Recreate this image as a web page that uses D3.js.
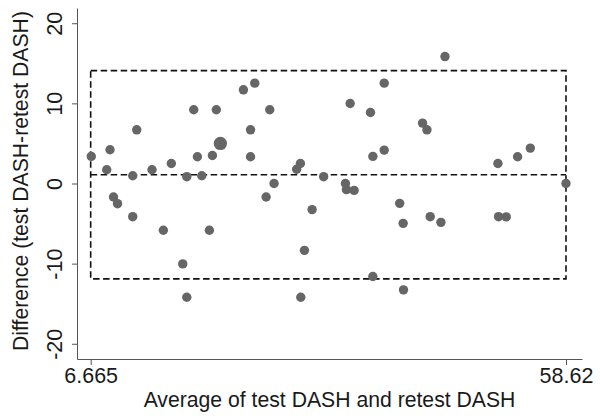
<!DOCTYPE html>
<html>
<head>
<meta charset="utf-8">
<script src="https://cdn.jsdelivr.net/npm/d3@7"></script>
<style>
  body { margin: 0; background: #fff; }
  svg text { font-family: "Liberation Sans", Arial, sans-serif; fill: #1a1a1a; }
</style>
</head>
<body>
<svg width="600" height="420"></svg>
<script>
// average of test and retest DASH (x)
const avg = [6.73, 8.42, 8.78, 9.16, 9.60, 11.26, 11.70, 11.26, 13.37, 14.61,
    15.48, 16.73, 17.17, 17.17, 17.93, 18.33, 18.81, 19.64, 19.97, 20.40,
    20.84, 23.36, 24.14, 24.14, 24.60, 25.84, 26.24, 26.71, 29.18, 29.59,
    30.03, 29.63, 30.87, 32.13, 34.51, 34.62, 35.46, 35.03, 37.25, 37.51,
    37.51, 38.75, 38.75, 40.44, 40.82, 40.86, 42.94, 43.42, 43.78, 44.95,
    45.39, 51.18, 51.25, 52.09, 53.33, 54.72, 58.62];
// difference test - retest (y)
const diff = [3.38, 1.72, 4.21, -1.68, -2.52, 0.97, 6.70, -4.14, 1.72, -5.84,
    2.50, -10.03, -14.19, 0.85, 9.20, 3.34, 0.97, -5.84, 3.50, 9.20,
    5.00, 11.69, 6.70, 3.34, 12.52, -1.68, 9.20, 0.00, 1.78, 2.50,
    -8.34, -14.19, -3.26, 0.85, 0.00, -0.77, -0.86, 9.98, 8.86, 3.38,
    -11.61, 12.52, 4.17, -2.48, -4.97, -13.27, 7.54, 6.70, -4.14, -4.85,
    15.84, 2.50, -4.14, -4.17, 3.34, 4.42, 0.00];
// number of subjects at the same position
const count = [1, 1, 1, 1, 1, 1, 1, 1, 1, 1,
    1, 1, 1, 1, 1, 1, 1, 1, 1, 1,
    2, 1, 1, 1, 1, 1, 1, 1, 1, 1,
    1, 1, 1, 1, 1, 1, 1, 1, 1, 1,
    1, 1, 1, 1, 1, 1, 1, 1, 1, 1,
    1, 1, 1, 1, 1, 1, 1];

const meanDiff = 1.10;
const upperLoA = 14.09;
const lowerLoA = -11.90;
const xTicks = [6.665, 58.62];
const yTicks = [-20, -10, 0, 10, 20];

const svg = d3.select("svg");

const x = d3.scaleLinear().domain([5.17, 60.37]).range([77, 582]);
const y = d3.scaleLinear().domain([-21.9, 21.9]).range([359, 8]);

// axes
const yAxis = svg.append("g")
    .attr("transform", "translate(77,0)")
    .call(d3.axisLeft(y).tickValues(yTicks).tickSize(5).tickSizeOuter(0).tickFormat(d => String(d)));
yAxis.selectAll("text")
    .attr("x", 0).attr("y", -15).attr("dy", 0)
    .attr("text-anchor", "middle")
    .attr("transform", "rotate(-90)")
    .style("font-size", "21.5px");

const xAxis = svg.append("g")
    .attr("transform", "translate(0,359)")
    .call(d3.axisBottom(x).tickValues(xTicks).tickSize(6).tickSizeOuter(0).tickFormat(d => String(d)));
xAxis.selectAll("text")
    .attr("y", 24).attr("dy", 0)
    .style("font-size", "21.5px");

svg.selectAll(".domain, .tick line").attr("stroke", "#555").attr("stroke-width", 1);

// limits of agreement box and mean line
const box = svg.append("g")
    .attr("fill", "none")
    .attr("stroke", "#111")
    .attr("stroke-width", 1.6)
    .attr("stroke-dasharray", "6.5,3.5");

box.append("rect")
    .attr("x", x(xTicks[0]))
    .attr("y", y(upperLoA))
    .attr("width", x(xTicks[1]) - x(xTicks[0]))
    .attr("height", y(lowerLoA) - y(upperLoA));

box.append("line")
    .attr("x1", x(xTicks[0])).attr("x2", x(xTicks[1]))
    .attr("y1", y(meanDiff)).attr("y2", y(meanDiff));

// points
const pts = avg.map((a, i) => ({ a: a, d: diff[i], n: count[i] }));
svg.append("g")
    .selectAll("circle")
    .data(pts)
    .enter().append("circle")
    .attr("cx", d => x(d.a))
    .attr("cy", d => y(d.d))
    .attr("r", d => 4.7 * Math.sqrt(d.n))
    .attr("fill", "#666");

// titles
svg.append("text")
    .attr("x", (77 + 582) / 2)
    .attr("y", 407)
    .attr("text-anchor", "middle")
    .style("font-size", "21.2px")
    .text("Average of test DASH and retest DASH");

svg.append("text")
    .attr("transform", "translate(28,181) rotate(-90)")
    .attr("text-anchor", "middle")
    .style("font-size", "21.2px")
    .text("Difference (test DASH-retest DASH)");
</script>
</body>
</html>
